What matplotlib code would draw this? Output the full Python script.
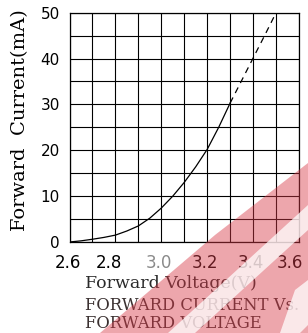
import matplotlib

matplotlib.use("Agg")

import matplotlib.pyplot as plt  # noqa: E402
import matplotlib.transforms as mtransforms  # noqa: E402
from matplotlib.patches import Polygon  # noqa: E402

# forward voltage (V) vs forward current (mA)
volts_solid = [2.6, 2.65, 2.7, 2.75, 2.8, 2.85, 2.9, 2.95, 3.0, 3.05,
               3.1, 3.15, 3.2, 3.25, 3.3]
amps_solid = [0.0, 0.25, 0.6, 1.0, 1.5, 2.4, 3.5, 5.2, 7.4, 10.0,
              13.0, 16.4, 20.2, 25.0, 30.3]
volts_dash = [3.3, 3.35, 3.4, 3.45, 3.5]
amps_dash = [30.3, 35.2, 40.1, 45.0, 50.0]

x_ticks = [2.6, 2.8, 3.0, 3.2, 3.4, 3.6]
x_tick_labels = ["2.6", "2.8", "3.0", "3.2", "3.4", "3.6"]
y_ticks = [0, 10, 20, 30, 40, 50]

W, H = 308, 333
dpi = 100
fig = plt.figure(figsize=(W / dpi, H / dpi), dpi=dpi)
fig.patch.set_facecolor("white")

# axes box in pixels: left 69.5, right 299, top 12.7, bottom 242
ax = fig.add_axes([69.5 / W, (H - 242) / H, 229.5 / W, 229.3 / H])
ax.set_xlim(2.6, 3.6)
ax.set_ylim(0, 50)

for i in range(11):
    ax.axvline(2.6 + i * 0.1, color="black", lw=0.8, zorder=1)
    ax.axhline(i * 5, color="black", lw=0.8, zorder=1)

ax.plot(volts_solid, amps_solid, color="black", lw=0.9, zorder=3)
ax.plot(volts_dash, amps_dash, color="black", lw=0.9, ls=(0, (5, 4)), zorder=3)

for s in ax.spines.values():
    s.set_linewidth(0.9)
    s.set_color("black")

ax.set_xticks(x_ticks)
ax.set_xticklabels(x_tick_labels, fontdict={"family": "DejaVu Sans", "size": 12})
ax.set_yticks(y_ticks)
ax.set_yticklabels([str(v) for v in y_ticks],
                   fontdict={"family": "DejaVu Sans", "size": 11})
ax.tick_params(axis="both", length=0)
ax.tick_params(axis="x", pad=9)
ax.tick_params(axis="y", pad=7)

# the x labels sit a little left of their ticks, the last one squeezed in
shifts = [-1.5, -6, -2.5, -2, -2, -9]
for lab, dx in zip(ax.get_xticklabels(), shifts):
    off = mtransforms.ScaledTranslation(dx / dpi, 0, fig.dpi_scale_trans)
    lab.set_transform(lab.get_transform() + off)
ax.get_xticklabels()[2].set_color("#8a8a8a")

fig.text(20 / W, 1 - 120 / H, "Forward  Current(mA)", rotation=90,
         ha="center", va="center", family="DejaVu Serif", size=14)
fig.text(85 / W, 1 - 284 / H, "Forward Voltage(V)", ha="left", va="center",
         family="DejaVu Serif", size=12.5, color="#2a2a2a")
caption = {"family": "DejaVu Serif", "size": 11.8}
fig.text(85 / W, 1 - 305 / H, "FORWARD CURRENT Vs.", ha="left", va="center",
         fontdict=caption, color="#3a3030")
fig.text(85 / W, 1 - 324 / H, "FORWARD VOLTAGE", ha="left", va="center",
         fontdict=caption, color="#3a3030")


# faint red watermark in the lower right corner
def px(pts):
    return [(x / W, 1 - y / H) for x, y in pts]


band = Polygon(px([(308, 163), (215, 235), (100, 333), (308, 333)]),
               closed=True, transform=fig.transFigure,
               facecolor="#d83a48", edgecolor="none", alpha=0.45, zorder=5)
fig.add_artist(band)
for cut_pts in ([(168, 333), (195, 333), (308, 230), (308, 205)],
                [(280, 333), (300, 333), (308, 325), (308, 280), (295, 290)]):
    fig.add_artist(Polygon(px(cut_pts), closed=True, transform=fig.transFigure,
                           facecolor="white", edgecolor="none", alpha=0.75,
                           zorder=6))

fig.savefig("out.png", dpi=dpi)
plt.close(fig)
